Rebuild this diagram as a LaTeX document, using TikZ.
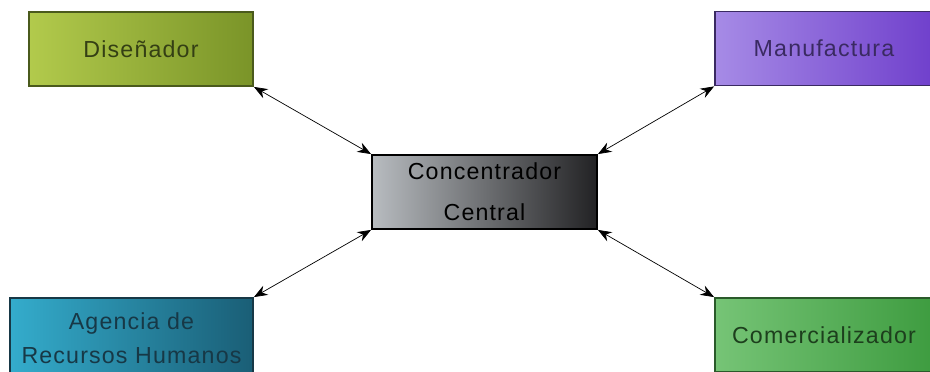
\documentclass[tikz,border=0pt]{standalone}
\usepackage{fontspec}
\setmainfont{Liberation Sans}[LetterSpace=5]
\usepackage{xcolor}
\usetikzlibrary{arrows.meta}

\definecolor{disL}{HTML}{B2CA4C}
\definecolor{disR}{HTML}{7A9428}
\definecolor{disB}{HTML}{4A5A1C}
\definecolor{manL}{HTML}{A68BE6}
\definecolor{manR}{HTML}{7040CC}
\definecolor{manB}{HTML}{3A2A62}
\definecolor{cenL}{HTML}{B8BCC0}
\definecolor{cenR}{HTML}{222224}
\definecolor{ageL}{HTML}{34ACCC}
\definecolor{ageR}{HTML}{1A5E76}
\definecolor{ageB}{HTML}{173846}
\definecolor{comL}{HTML}{76C476}
\definecolor{comR}{HTML}{3E9C40}
\definecolor{comB}{HTML}{2A5A2A}

\begin{document}
\begin{tikzpicture}[x=0.025cm, y=0.025cm,
  box/.style={draw, line width=1.3pt, rectangle, minimum height=74*0.025cm,
    inner sep=0pt, align=center, font=\fontsize{16.5}{24}\selectfont},
  link/.style={{Stealth[length=3.4mm,width=2.6mm]}-{Stealth[length=3.4mm,width=2.6mm]}, line width=0.5pt}]
\clip (0,0) rectangle (930,371);
% Boxes
\node[box, minimum width=224*0.025cm, left color=disL, right color=disR,
  draw=disB, text=disB!70!black] (dis) at (141,322) {Diseñador};
\node[box, minimum width=218*0.025cm, left color=manL, right color=manR,
  draw=manB, text=manB] (man) at (824,322.5) {Manufactura};
\node[box, minimum width=225*0.025cm, left color=cenL, right color=cenR,
  draw=black, font=\fontsize{16.5}{29}\selectfont] (cen) at (484.5,179) {Concentrador\\Central};
\node[box, minimum width=243*0.025cm, minimum height=80*0.025cm, left color=ageL,
  right color=ageR, draw=ageB, text=ageB] (age) at (131.5,33) {Agencia de\\Recursos Humanos};
\node[box, minimum width=218*0.025cm, left color=comL, right color=comR,
  draw=comB, text=comB!70!black] (com) at (824,36) {Comercializador};
% Links
\draw[link] (dis.south east) -- (cen.north west);
\draw[link] (man.south west) -- (cen.north east);
\draw[link] (age.north east) -- (cen.south west);
\draw[link] (com.north west) -- (cen.south east);
\end{tikzpicture}
\end{document}
